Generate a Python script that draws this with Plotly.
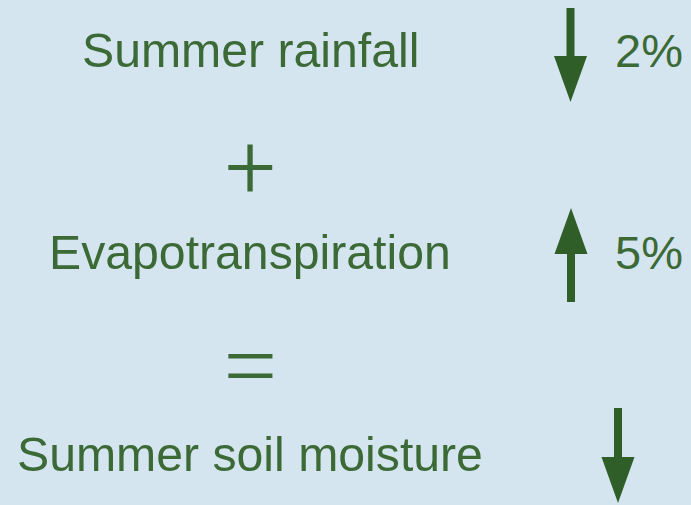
import plotly.graph_objects as go

# ---- data ----
labels = ["Summer rainfall", "Evapotranspiration", "Summer soil moisture"]
directions = ["down", "up", "down"]
changes = ["2%", "5%", ""]
operators = ["+", "="]

# ---- layout constants (pixel space) ----
W, H = 691, 505
BG = "#d5e5f0"
TEXT = "#3c6a36"
ARROW = "#2f5e29"
FONT = "Liberation Sans, Arial, sans-serif"

label_x = 250
row_y = [50, 252, 454]
op_y = [167, 362]
arrow_x = [570.5, 571, 618]
arrow_span = [(8, 102), (302, 208), (408, 503)]  # (tail, tip)
pct_x = 613
head_len, head_half, shaft_half = 46, 16.5, 4
op_fonts = [dict(family="Roboto, Liberation Sans, sans-serif", size=90, weight=300),
            dict(family="Noto Sans, sans-serif", size=96, weight=300)]

fig = go.Figure()
fig.add_trace(go.Scatter(x=[0, W], y=[0, H], mode="markers",
                         marker=dict(opacity=0), hoverinfo="skip", showlegend=False))

annotations = []
shapes = []
for i, lab in enumerate(labels):
    annotations.append(dict(x=label_x, y=row_y[i], text=lab, showarrow=False,
                            xanchor="center", yanchor="middle",
                            font=dict(family=FONT, size=48.2, color=TEXT)))
    if changes[i]:
        annotations.append(dict(x=pct_x, y=row_y[i], text=changes[i], showarrow=False,
                                xanchor="left", yanchor="middle",
                                font=dict(family=FONT, size=47, color=TEXT)))
    ax = arrow_x[i]
    tail, tip = arrow_span[i]
    sgn = 1 if tip > tail else -1
    base = tip - sgn * head_len
    path = (f"M {ax-shaft_half},{tail} L {ax+shaft_half},{tail} L {ax+shaft_half},{base} "
            f"L {ax+head_half},{base} L {ax},{tip} L {ax-head_half},{base} "
            f"L {ax-shaft_half},{base} Z")
    shapes.append(dict(type="path", path=path, xref="x", yref="y",
                       fillcolor=ARROW, line=dict(width=0)))

for j, op in enumerate(operators):
    annotations.append(dict(x=label_x, y=op_y[j], text=op, showarrow=False,
                            xanchor="center", yanchor="middle",
                            font=dict(color=TEXT, **op_fonts[j])))

fig.update_layout(
    width=W, height=H,
    margin=dict(l=0, r=0, t=0, b=0),
    paper_bgcolor=BG, plot_bgcolor=BG,
    xaxis=dict(range=[0, W], visible=False, fixedrange=True),
    yaxis=dict(range=[H, 0], visible=False, fixedrange=True),
    annotations=annotations, shapes=shapes, showlegend=False,
)
fig.write_html("out.html", config={"displayModeBar": False},
               post_script="document.body.style.margin='0';document.body.style.overflow='hidden';")
